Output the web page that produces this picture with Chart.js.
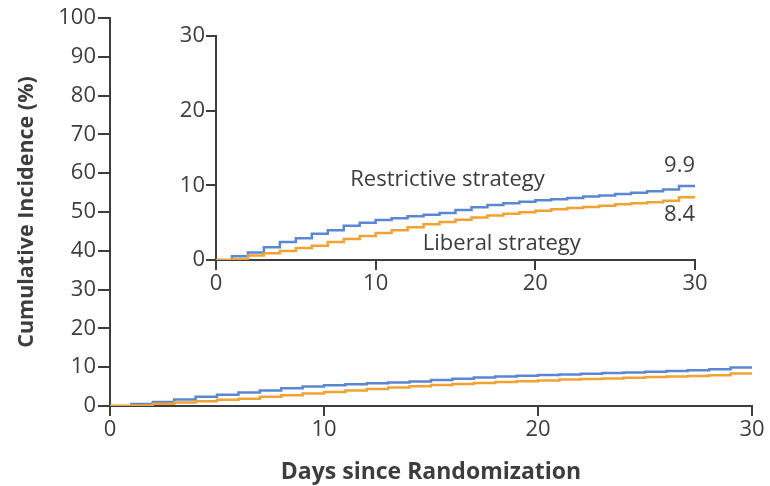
<!DOCTYPE html>
<html>
<head>
<meta charset="utf-8">
<script src="https://cdn.jsdelivr.net/npm/chart.js@4.4.0/dist/chart.umd.min.js"></script>
<style>
  html, body { margin: 0; padding: 0; background: #ffffff; }
  #wrap { position: relative; width: 770px; height: 486px; }
  #wrap canvas { position: absolute; left: 0; top: 0; }
</style>
</head>
<body>
<div id="wrap">
  <canvas id="mainChart" width="770" height="486"></canvas>
  <canvas id="insetChart" width="770" height="486"></canvas>
</div>
<script>
// Days since randomization (one step per day)
const days = [0, 1, 2, 3, 4, 5, 6, 7, 8, 9, 10, 11, 12, 13, 14, 15, 16, 17, 18, 19, 20,
              21, 22, 23, 24, 25, 26, 27, 28, 29, 30];
// Cumulative incidence (%) by day
const restrictive = [0, 0.5, 1.0, 1.7, 2.4, 2.9, 3.5, 4.0, 4.6, 5.0, 5.35, 5.6, 5.85, 6.05, 6.3, 6.7,
                     7.05, 7.35, 7.6, 7.8, 8.0, 8.15, 8.3, 8.5, 8.65, 8.85, 9.0, 9.2, 9.45, 9.9, 9.9];
const liberal = [0, 0.1, 0.6, 0.9, 1.2, 1.6, 1.9, 2.4, 2.8, 3.2, 3.6, 4.0, 4.4, 4.8, 5.1, 5.4,
                 5.7, 5.95, 6.2, 6.4, 6.6, 6.8, 6.95, 7.1, 7.25, 7.45, 7.6, 7.75, 7.95, 8.4, 8.4];

const seriesNames = ['Restrictive strategy', 'Liberal strategy'];
const xTicks = [0, 10, 20, 30];
const mainYTicks = [0, 10, 20, 30, 40, 50, 60, 70, 80, 90, 100];
const insetYTicks = [0, 10, 20, 30];

const BLUE = '#5b87d2';
const ORANGE = '#f0a232';
const INK = '#3d3d3d';
const FONT = "'Open Sans', 'Noto Sans', sans-serif";

function points(vals) {
  return days.map((d, i) => ({ x: d, y: vals[i] }));
}

function datasets() {
  return [
    { label: seriesNames[1], data: points(liberal), borderColor: ORANGE, borderWidth: 2.5,
      stepped: 'before', pointRadius: 0, fill: false },
    { label: seriesNames[0], data: points(restrictive), borderColor: BLUE, borderWidth: 2.5,
      stepped: 'before', pointRadius: 0, fill: false }
  ];
}

function fixedTicks(list) {
  return scale => { scale.ticks = list.map(v => ({ value: v })); };
}

function axis(opts) {
  return Object.assign({
    type: 'linear',
    grid: { drawOnChartArea: false, drawTicks: true, tickLength: 10, color: INK, lineWidth: 2 },
    border: { display: true, color: INK, width: 2 },
    ticks: { color: INK, font: { family: FONT, size: 22 }, padding: 1, maxRotation: 0,
             autoSkip: false }
  }, opts);
}

Chart.defaults.animation = false;
Chart.defaults.color = INK;

// Full 0–100% view
new Chart(document.getElementById('mainChart'), {
  type: 'line',
  data: { datasets: datasets() },
  options: {
    responsive: false,
    animation: false,
    layout: { padding: { left: 0, top: 18, right: 18, bottom: 0 } },
    plugins: { legend: { display: false }, tooltip: { enabled: false } },
    scales: {
      x: axis({
        min: 0, max: 30,
        afterBuildTicks: fixedTicks(xTicks),
        afterFit: s => { s.height = 80; },
        title: { display: true, text: 'Days since Randomization', color: INK,
                 font: { family: FONT, size: 23, weight: 'bold' }, padding: { top: 0, bottom: 0 } }
      }),
      y: axis({
        min: 0, max: 100,
        afterBuildTicks: fixedTicks(mainYTicks),
        afterFit: s => { s.width = 110; },
        grid: { drawOnChartArea: false, drawTicks: true, tickLength: 12, color: INK, lineWidth: 2 },
        ticks: { color: INK, font: { family: FONT, size: 22 }, padding: 2, autoSkip: false },
        title: { display: true, text: 'Cumulative Incidence (%)', color: INK,
                 font: { family: FONT, size: 21.5, weight: 'bold' }, padding: { top: 14, bottom: 0 } }
      })
    }
  }
});

// Labels inside the zoomed 0–30% view
const insetLabels = {
  id: 'insetLabels',
  afterDatasetsDraw(chart) {
    const { ctx, scales: { x, y } } = chart;
    ctx.save();
    ctx.fillStyle = INK;
    ctx.font = `22px ${FONT}`;
    ctx.textBaseline = 'middle';
    ctx.textAlign = 'center';
    ctx.fillText(seriesNames[0], x.getPixelForValue(14.5), y.getPixelForValue(10.8));
    ctx.fillText(seriesNames[1], x.getPixelForValue(17.9), y.getPixelForValue(2.2));
    ctx.textAlign = 'right';
    const rEnd = restrictive[restrictive.length - 1];
    const lEnd = liberal[liberal.length - 1];
    const xr = x.getPixelForValue(days[days.length - 1]);
    ctx.fillText(rEnd.toFixed(1), xr, y.getPixelForValue(rEnd) - 20);
    ctx.fillText(lEnd.toFixed(1), xr, y.getPixelForValue(lEnd) + 17);
    ctx.restore();
  }
};

new Chart(document.getElementById('insetChart'), {
  type: 'line',
  data: { datasets: datasets() },
  options: {
    responsive: false,
    animation: false,
    events: [],
    layout: { padding: { left: 0, top: 36, right: 75, bottom: 0 } },
    plugins: { legend: { display: false }, tooltip: { enabled: false } },
    scales: {
      x: axis({
        min: 0, max: 30,
        afterBuildTicks: fixedTicks(xTicks),
        afterFit: s => { s.height = 226; }
      }),
      y: axis({
        min: 0, max: 30,
        afterBuildTicks: fixedTicks(insetYTicks),
        afterFit: s => { s.width = 216; }
      })
    }
  },
  plugins: [insetLabels]
});
</script>
</body>
</html>
